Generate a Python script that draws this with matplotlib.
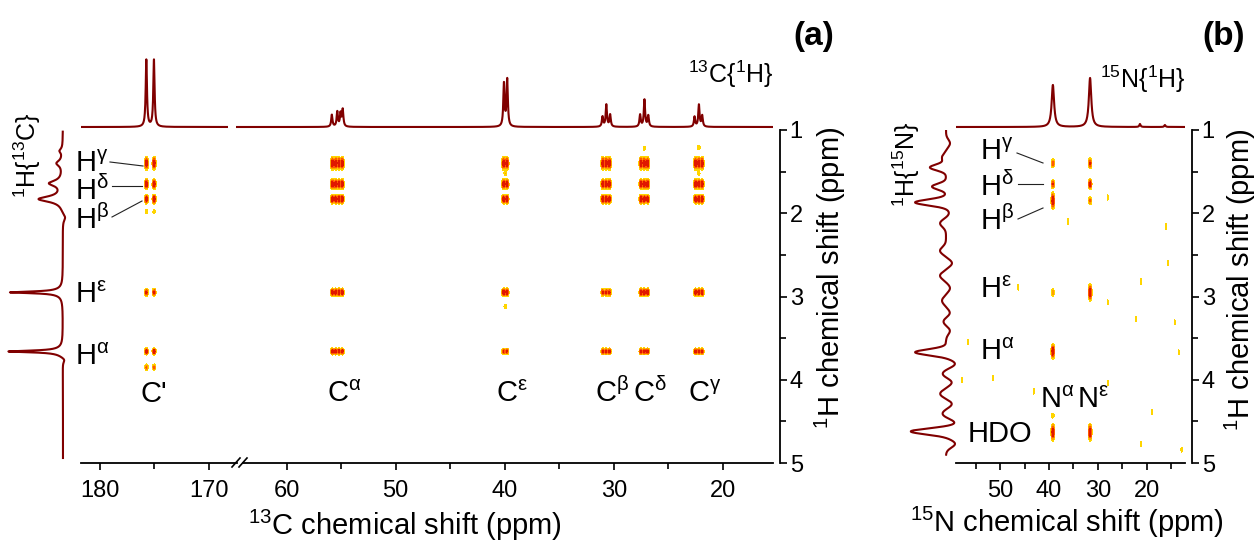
import numpy as np
import matplotlib
matplotlib.use("Agg")
import matplotlib.pyplot as plt
from matplotlib.lines import Line2D

plt.rcParams['font.family'] = ['Liberation Sans', 'DejaVu Sans']
plt.rcParams['mathtext.default'] = 'regular'

W, H = 1259, 542
RED = '#800000'
LEVELS = [0.05, 0.15, 0.3, 0.55, 100]
FILLS = ['#ffd500', '#ffa200', '#ff5a00', '#e01800']

# ---- panel (a): 13C{1H} projection (ppm, height, half width)
c1d_pos = [175.7, 175.0, 55.9, 55.4, 55.1, 54.9, 40.1, 39.8,
           31.05, 30.7, 30.35, 27.6, 27.2, 26.85, 22.6, 22.2, 21.9]
c1d_amp = [67, 67, 12, 15, 13, 17, 43, 47, 10, 22, 12, 12, 27, 11, 10, 22, 11]
c1d_hw = 0.07

# ---- panel (a): 1H{13C} projection
ha_pos = [1.25, 1.40, 1.64, 1.83, 2.05, 2.95, 2.95, 3.66, 3.66, 3.76]
ha_amp = [3, 6, 13, 24, -3, 47, 6, 49, 6, -3]
ha_hw = [0.03, 0.04, 0.04, 0.04, 0.05, 0.012, 0.05, 0.012, 0.05, 0.04]

# ---- panel (a): 2D cross peaks
carbons = ["C'", 'Cα', 'Cε', 'Cβ', 'Cδ', 'Cγ']
c_cols = [[175.7, 175.0], [55.8, 55.5, 55.2, 54.9], [40.1, 39.8],
          [31.0, 30.7, 30.4], [27.5, 27.2, 26.9], [22.5, 22.2, 21.9]]
h_rows = [1.40, 1.65, 1.83, 2.95, 3.66]
h_sig = [0.035, 0.028, 0.025, 0.022, 0.018]
row_amp = [[1.0, 1.0, 1.0, 0.7, 1.0],
           [1.0, 1.0, 1.0, 0.9, 0.9],
           [1.0, 1.0, 1.0, 1.0, 0.6],
           [1.0, 1.0, 1.0, 0.7, 0.8],
           [1.0, 1.0, 1.0, 1.0, 0.8],
           [1.0, 1.0, 1.0, 0.9, 0.8]]
extra_c = [175.7, 175.0, 175.7, 175.0, 39.95, 39.95, 27.2, 22.2, 22.2]
extra_h = [1.98, 1.98, 3.85, 3.85, 3.12, 1.52, 1.22, 1.21, 1.52]
extra_a = [0.12, 0.12, 0.35, 0.35, 0.15, 0.15, 0.12, 0.15, 0.12]

# ---- panel (b): 15N{1H} projection
n1d_pos = [39.2, 31.6, 21.4, 16.3]
n1d_amp = [42, 49, 3, 2]
n1d_hw = [0.3, 0.3, 0.15, 0.15]

# ---- panel (b): 1H{15N} projection
hb_pos = [1.16, 1.33, 1.45, 1.68, 1.87, 2.0, 2.12, 2.45, 2.60, 2.75, 2.90, 3.05,
          3.20, 3.30, 3.41, 3.67, 3.81, 3.93, 4.03, 4.17, 4.29, 4.41, 4.52,
          4.62, 4.77]
hb_amp = [-4, 4, 16, 14, 31, -3, 6, 6, -6, 6, -4, 4,
          -4, 3, -4, 31, -9, 4, -6, 6, -6, 4, -9,
          36, -9]

# ---- panel (b): 2D cross peaks
nb_n = [39.2, 39.2, 39.2, 39.2, 39.2, 39.2, 39.2, 31.6, 31.6, 31.6, 31.6, 31.6]
nb_h = [1.40, 1.65, 1.85, 2.95, 3.66, 4.43, 4.63, 1.40, 1.65, 1.85, 2.95, 4.63]
nb_a = [0.5, 0.6, 1.0, 0.25, 1.0, 0.15, 1.0, 0.6, 0.8, 0.35, 1.0, 1.0]
nb_s = [0.025, 0.025, 0.045, 0.025, 0.04, 0.02, 0.045, 0.03, 0.03, 0.025, 0.045, 0.045]
noise_n = [36.1, 15.7, 21.2, 28.0, 22.2, 14.3, 13.5, 56.5, 57.8, 51.4, 43.1,
           28.0, 19.0, 21.2, 12.9, 28.0, 46.3, 16.1]
noise_h = [2.10, 2.60, 2.82, 3.07, 3.27, 3.31, 3.67, 3.55, 4.00, 3.98, 4.14,
           4.04, 4.39, 4.77, 4.84, 1.81, 2.89, 2.16]


def gauss(x, x0, s):
    return np.exp(-0.5 * ((x - x0) / s) ** 2)


def lor(x, x0, hw):
    return 1.0 / (1.0 + ((x - x0) / hw) ** 2)


def px_axes(x0, y0, x1, y1):
    return fig.add_axes([x0 / W, 1 - y1 / H, (x1 - x0) / W, (y1 - y0) / H])


def ptext(x, y, s, **kw):
    fig.text(x / W, 1 - y / H, s, **kw)


def pline(x0, y0, x1, y1, lw=0.8, color='#222222'):
    fig.add_artist(Line2D([x0 / W, x1 / W], [1 - y0 / H, 1 - y1 / H],
                          transform=fig.transFigure, lw=lw, color=color))


def blank(ax):
    for s in ax.spines.values():
        s.set_visible(False)
    ax.set_xticks([])
    ax.set_yticks([])
    ax.patch.set_alpha(0)


def style_main(ax, right=False):
    for s in ['top', 'left', 'right']:
        ax.spines[s].set_visible(False)
    ax.spines['bottom'].set_linewidth(1.3)
    ax.tick_params(axis='x', which='both', direction='out', width=1.2,
                   labelsize=17, pad=7)
    ax.tick_params(axis='x', which='major', length=5)
    ax.tick_params(axis='x', which='minor', length=4)
    ax.patch.set_alpha(0)
    if right:
        ax.spines['right'].set_visible(True)
        ax.spines['right'].set_linewidth(1.3)
        ax.spines['right'].set_position(('outward', 5))
        ax.yaxis.tick_right()
        ax.set_yticks([1, 2, 3, 4, 5])
        ax.set_yticks([1.5, 2.5, 3.5, 4.5], minor=True)
        ax.tick_params(axis='y', which='both', direction='out', width=1.2,
                       labelsize=17, pad=2)
        ax.tick_params(axis='y', which='major', length=5)
        ax.tick_params(axis='y', which='minor', length=4)
    else:
        ax.set_yticks([])
    ax.set_ylim(5, 1)


fig = plt.figure(figsize=(W / 100, H / 100), dpi=100)

yg = np.linspace(1, 5, 1400)
lv_kw = dict(levels=LEVELS, colors=FILLS)


def map_a(xg):
    Z = np.zeros((yg.size, xg.size))
    for i, comps in enumerate(c_cols):
        gx = sum(gauss(xg, c, 0.08) for c in comps)
        for j, h in enumerate(h_rows):
            Z += row_amp[i][j] * np.outer(gauss(yg, h, h_sig[j]), gx)
    for c, h, a in zip(extra_c, extra_h, extra_a):
        Z += a * np.outer(gauss(yg, h, 0.02), gauss(xg, c, 0.08))
    return Z


# ---- panel (a) main, broken x axis
ax1 = px_axes(81, 130, 237, 463)
xg1 = np.linspace(167.4, 181.7, 900)
ax1.contourf(xg1, yg, map_a(xg1), **lv_kw)
ax1.set_xlim(181.7, 167.4)
ax1.set_xticks([180, 170])
ax1.set_xticks([175], minor=True)
style_main(ax1)

ax2 = px_axes(243, 130, 773, 463)
xg2 = np.linspace(15.4, 64.0, 3000)
ax2.contourf(xg2, yg, map_a(xg2), **lv_kw)
ax2.set_xlim(64.0, 15.4)
ax2.set_xticks([60, 50, 40, 30, 20])
ax2.set_xticks([55, 45, 35, 25], minor=True)
style_main(ax2, right=True)

pline(232, 467, 240, 458, lw=1.2, color='black')
pline(239, 467, 247, 458, lw=1.2, color='black')

# ---- panel (a) top projection, broken
def c1d(xs):
    return sum(a * lor(xs, p, c1d_hw) for p, a in zip(c1d_pos, c1d_amp))


for (x0, x1, lo, hi) in [(81, 228, 168.2, 181.7), (236, 773, 15.4, 64.7)]:
    axt = px_axes(x0, 40, x1, 132)
    xs = np.linspace(lo, hi, 4000)
    axt.plot(xs, c1d(xs), color=RED, lw=1.5)
    axt.set_xlim(hi, lo)
    axt.set_ylim(-5, 87)
    blank(axt)

# ---- panel (a) left projection
axl = px_axes(0, 130, 72, 463)
hs = np.linspace(1.02, 4.94, 4000)
spec = sum(a * lor(hs, p, w) for p, a, w in zip(ha_pos, ha_amp, ha_hw))
axl.plot(spec, hs, color=RED, lw=1.5)
axl.set_xlim(63, -9)
axl.set_ylim(5, 1)
blank(axl)

# ---- panel (b) main
axb = px_axes(956, 130, 1185, 463)
xgb = np.linspace(12.2, 59.0, 2000)
Zb = np.zeros((yg.size, xgb.size))
for n, h, a, s in zip(nb_n, nb_h, nb_a, nb_s):
    Zb += a * np.outer(gauss(yg, h, s), gauss(xgb, n, 0.17))
for n, h in zip(noise_n, noise_h):
    Zb += 0.09 * np.outer(gauss(yg, h, 0.03), gauss(xgb, n, 0.12))
axb.contourf(xgb, yg, Zb, **lv_kw)
axb.set_xlim(59.0, 12.2)
axb.set_xticks([50, 40, 30, 20])
axb.set_xticks([55, 45, 35, 25, 15], minor=True)
style_main(axb, right=True)

# ---- panel (b) top projection
axbt = px_axes(956, 40, 1185, 132)
xs = np.linspace(12.2, 58.8, 3000)
axbt.plot(xs, sum(a * lor(xs, p, w) for p, a, w in zip(n1d_pos, n1d_amp, n1d_hw)),
          color=RED, lw=1.5)
axbt.set_xlim(59.0, 12.2)
axbt.set_ylim(-5, 87)
blank(axbt)

# ---- panel (b) left projection
axbl = px_axes(892, 130, 958, 463)
hs = np.linspace(0.97, 4.9, 3000)
spec_b = sum(a * gauss(hs, p, 0.045 if abs(a) < 10 else 0.035)
             for p, a in zip(hb_pos, hb_amp))
axbl.plot(spec_b, hs, color=RED, lw=1.5)
axbl.set_xlim(54, -12)
axbl.set_ylim(5, 1)
blank(axbl)

# ---- labels
big = dict(fontsize=21, va='baseline', ha='left')
for x, y, s in [(75, 172, 'γ'), (75, 200, 'δ'), (75, 229, 'β'),
                (75, 303, 'ε'), (75, 365, 'α')]:
    ptext(x, y, r'$\mathregular{H^{%s}}$' % s, **big)
pline(110, 162, 143, 166)
pline(112, 186, 142, 186)
pline(112, 217, 142, 201)

for x, s in zip([140, 327, 496, 595, 633, 688], carbons):
    if s == "C'":
        ptext(x, 402, "C'", **big)
    else:
        ptext(x, 402, r'$\mathregular{C^{%s}}$' % s[1], **big)

for x, y, s in [(980, 160, 'γ'), (980, 196, 'δ'), (980, 230, 'β'),
                (980, 298, 'ε'), (980, 360, 'α')]:
    ptext(x, y, r'$\mathregular{H^{%s}}$' % s, **big)
pline(1017, 153, 1043, 163)
pline(1018, 184, 1043, 184)
pline(1018, 219, 1043, 208)
ptext(1040, 408, r'$\mathregular{N^{α}}$', **big)
ptext(1077, 408, r'$\mathregular{N^{ε}}$', **big)
ptext(968, 442, 'HDO', **big)

ptext(793, 45, '(a)', fontsize=24, fontweight='bold', va='baseline')
ptext(1202, 45, '(b)', fontsize=24, fontweight='bold', va='baseline')
ptext(688, 83, r'$\mathregular{^{13}C\{^{1}H\}}$', fontsize=18, va='baseline')
ptext(1100, 88, r'$\mathregular{^{15}N\{^{1}H\}}$', fontsize=18, va='baseline')
ptext(27, 155, r'$\mathregular{^{1}H\{^{13}C\}}$', fontsize=18, rotation=90,
      ha='center', va='center')
ptext(906, 164, r'$\mathregular{^{1}H\{^{15}N\}}$', fontsize=18, rotation=90,
      ha='center', va='center')

ptext(405, 535, r'$\mathregular{^{13}C}$ chemical shift (ppm)', fontsize=21,
      ha='center', va='baseline')
ptext(1067, 532, r'$\mathregular{^{15}N}$ chemical shift (ppm)', fontsize=21,
      ha='center', va='baseline')
ptext(830, 278, r'$\mathregular{^{1}H}$ chemical shift (ppm)', fontsize=21,
      rotation=90, ha='center', va='center')
ptext(1240, 280, r'$\mathregular{^{1}H}$ chemical shift (ppm)', fontsize=21,
      rotation=90, ha='center', va='center')

fig.savefig('out.png', dpi=100)
